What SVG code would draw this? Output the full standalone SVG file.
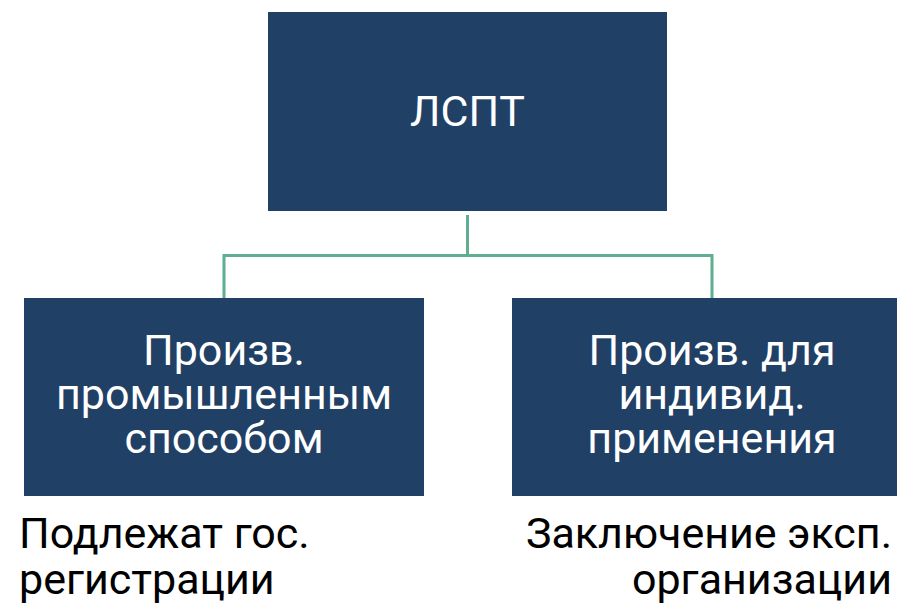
<svg xmlns="http://www.w3.org/2000/svg" width="897" height="604" viewBox="0 0 897 604">
<style>
.box{fill:#214066;}
.bt{font-family:Roboto,"Noto Sans",sans-serif;font-size:43px;fill:#ffffff;text-anchor:middle;}
.lt{font-family:Roboto,"Noto Sans",sans-serif;font-size:43px;fill:#000000;}
.conn{stroke:#5fae90;stroke-width:3;fill:none;}
</style>
<rect width="897" height="604" fill="#ffffff"/>
<g id="connectors">
<path class="conn" d="M467.5 215 V255.5 M224 298 V255.5 H712 V298"/>
</g>
<g id="n-root">
<rect class="box" x="268" y="12" width="399" height="199"/>
<text class="bt" x="467.5" y="126">ЛСПТ</text>
</g>
<g id="n-left">
<rect class="box" x="24" y="298" width="400" height="198"/>
<text class="bt" x="224" y="365">Произв.</text>
<text class="bt" x="224" y="409">промышленным</text>
<text class="bt" x="224" y="453">способом</text>
</g>
<g id="n-right">
<rect class="box" x="512" y="298" width="400" height="198"/>
<text class="bt" x="712" y="365">Произв. для</text>
<text class="bt" x="712" y="409">индивид.</text>
<text class="bt" x="712" y="453">применения</text>
</g>
<g id="note-left">
<text class="lt" x="19" y="548">Подлежат гос.</text>
<text class="lt" x="19" y="594">регистрации</text>
</g>
<g id="note-right">
<text class="lt" x="892" y="548" text-anchor="end">Заключение эксп.</text>
<text class="lt" x="892" y="594" text-anchor="end">организации</text>
</g>
</svg>
